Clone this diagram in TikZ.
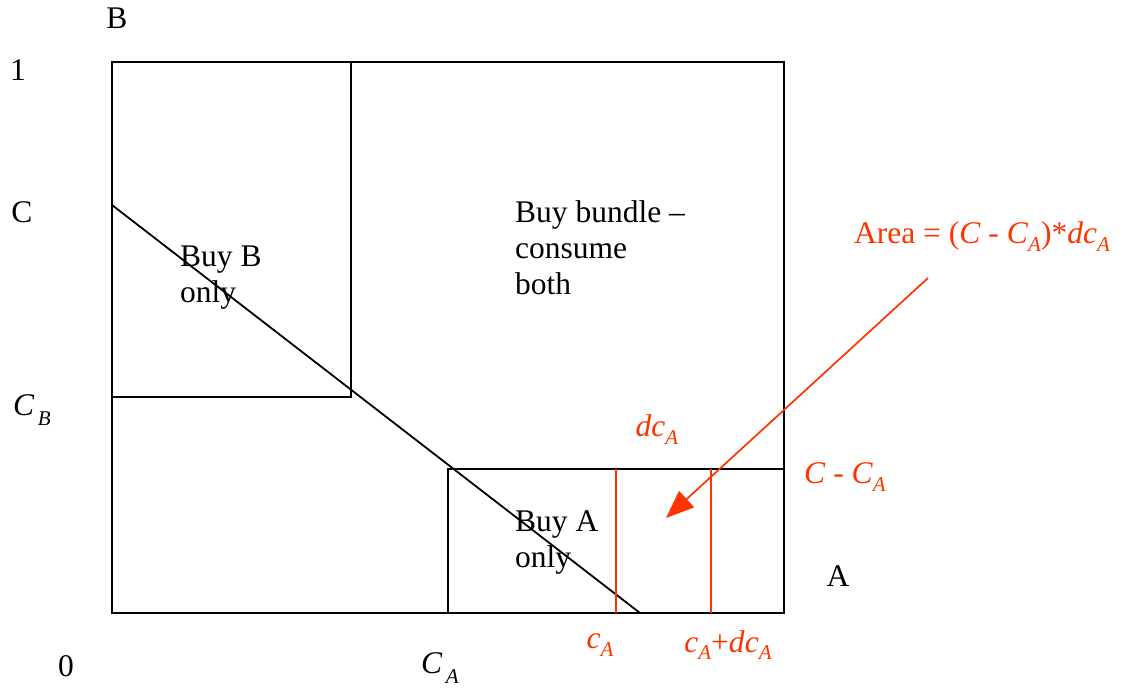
\documentclass[tikz,border=0pt]{standalone}
\usepackage{fontspec}
\setmainfont{Liberation Serif}
\usetikzlibrary{arrows.meta}
\definecolor{redline}{RGB}{255,51,0}
\newcommand{\subA}[1]{\textit{#1}\raisebox{-0.25em}{\fontsize{21}{21}\selectfont\textit{A}}}
\begin{document}
\begin{tikzpicture}[x=1pt,y=-1pt,
  lbl/.style={inner sep=0pt,font=\fontsize{31.5}{36}\selectfont},
  rlbl/.style={lbl,text=redline},
  blk/.style={line width=1.8pt,black},
  red/.style={line width=1.7pt,redline}]
\useasboundingbox (0,0) rectangle (1129,691);
% coordinates
\coordinate (BL) at (112,613);
\coordinate (TR) at (784,62);
\coordinate (Cl) at (112,205);
\coordinate (Dend) at (640,613);
% outer square
\draw[blk] (BL) rectangle (TR);
% Buy B box
\draw[blk] (112,397) -- (351,397) -- (351,62);
% Buy A box
\draw[blk] (448,613) -- (448,469) -- (784,469);
% diagonal
\draw[blk] (Cl) -- (Dend);
% red vertical lines
\draw[red] (616,469) -- (616,613);
\draw[red] (711,469) -- (711,613);
% labels
\node[lbl] (lB) at (117,18) {B};
\node[lbl] (l1) at (18,70) {1};
\node[lbl] (lC) at (22,212) {C};
\node[lbl] (lCB) at (32,410) {\textit{C}\raisebox{-0.3em}{\fontsize{21}{21}\selectfont\,\textit{B}}};
\node[lbl] (l0) at (66,666) {0};
\node[lbl] (lCA) at (440,668) {\textit{C}\raisebox{-0.3em}{\fontsize{21}{21}\selectfont\,\textit{A}}};
\node[lbl] (lA) at (838,576) {A};
\node[lbl,anchor=west,align=left] (bundle) at (515,248) {Buy bundle –\\consume\\both};
\node[lbl,anchor=west,align=left] (bonly) at (180,278) {Buy B\\only};
\node[lbl,anchor=west,align=left] (aonly) at (515,542) {Buy A\\only};
% red labels
\node[rlbl] (lca) at (600,645) {\subA{c}};
\node[rlbl] (lcadca) at (728,645) {\subA{c}+\textit{d}\subA{c}};
\node[rlbl] (ldca) at (657,430) {\textit{d}\subA{c}};
\node[rlbl] (lCCA) at (845,477) {\textit{C} - \subA{C}};
\node[rlbl] (area) at (982,237) {Area = (\textit{C} - \subA{C})*\textit{d}\subA{c}};
% arrow
\coordinate (arS) at (928,278);
\coordinate (arE) at (666,518);
\draw[red,-{Triangle[length=28pt,width=22pt]}] (arS) -- (arE);
\end{tikzpicture}
\end{document}
